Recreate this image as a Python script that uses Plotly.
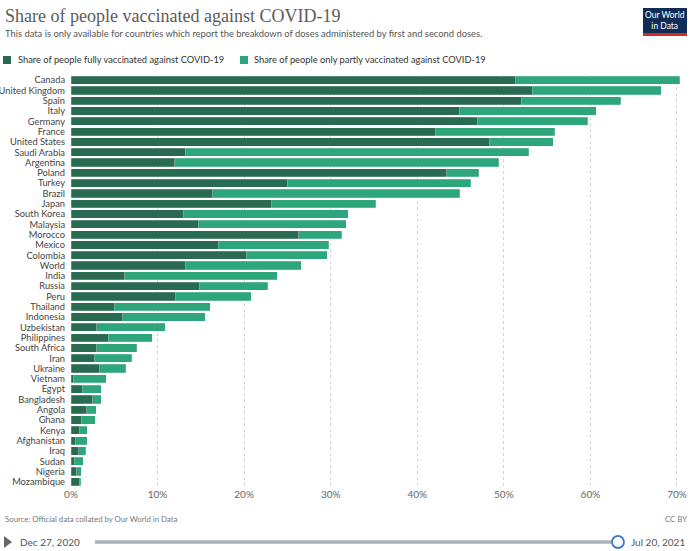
import plotly.graph_objects as go

countries = ["Canada", "United Kingdom", "Spain", "Italy", "Germany", "France", "United States",
             "Saudi Arabia", "Argentina", "Poland", "Turkey", "Brazil", "Japan", "South Korea",
             "Malaysia", "Morocco", "Mexico", "Colombia", "World", "India", "Russia", "Peru",
             "Thailand", "Indonesia", "Uzbekistan", "Philippines", "South Africa", "Iran",
             "Ukraine", "Vietnam", "Egypt", "Bangladesh", "Angola", "Ghana", "Kenya",
             "Afghanistan", "Iraq", "Sudan", "Nigeria", "Mozambique"]

fully = [51.4, 53.3, 52.0, 44.9, 46.9, 42.1, 48.3,
         13.2, 12.0, 43.4, 25.0, 16.4, 23.2, 13.0,
         14.7, 26.3, 17.0, 20.3, 13.2, 6.2, 14.8, 12.1,
         5.0, 6.0, 3.0, 4.3, 3.0, 2.7,
         3.3, 0.3, 1.3, 2.5, 1.8, 1.2, 1.0,
         0.5, 0.9, 0.35, 0.66, 1.0]

partly = [18.9, 14.9, 11.5, 15.8, 12.8, 13.8, 7.4,
          39.7, 37.4, 3.7, 21.2, 28.5, 12.0, 19.0,
          17.1, 5.0, 12.8, 9.3, 13.4, 17.6, 7.9, 8.7,
          11.1, 9.5, 7.9, 5.1, 4.6, 4.3,
          3.0, 3.8, 2.2, 1.0, 1.1, 1.6, 0.9,
          1.4, 0.8, 1.05, 0.5, 0.1]

x_ticks = [0, 10, 20, 30, 40, 50, 60, 70]
x_tick_labels = ["0%", "10%", "20%", "30%", "40%", "50%", "60%", "70%"]

series_names = ["Share of people fully vaccinated against COVID-19",
                "Share of people only partly vaccinated against COVID-19"]
colors = ["#286b50", "#2ea67c"]

title = "Share of people vaccinated against COVID-19"
subtitle = "This data is only available for countries which report the breakdown of doses administered by first and second doses."
source = "Source: Official data collated by Our World in Data"
start_date = "Dec 27, 2020"
end_date = "Jul 20, 2021"

SANS = "Lato, 'Noto Sans', sans-serif"
SERIF = "'Liberation Serif', 'DejaVu Serif', serif"

W, H = 693, 551
L, R, T, B = 71, 13, 75, 64
PW, PH = W - L - R, H - T - B

fig = go.Figure()
for name, vals, col in zip(series_names, [fully, partly], colors):
    fig.add_trace(go.Bar(
        y=countries, x=vals, name=name, orientation="h",
        marker=dict(color=col, line=dict(color="rgba(255,255,255,0.35)", width=0.6)),
        showlegend=False, hoverinfo="x+y",
    ))

fig.update_layout(
    template="none",
    width=W, height=H,
    barmode="stack", bargap=0.2,
    margin=dict(l=L, r=R, t=T, b=B, autoexpand=False),
    paper_bgcolor="white", plot_bgcolor="white",
    font=dict(family=SANS, color="#555"),
    xaxis=dict(range=[0, 70.35], tickmode="array", tickvals=x_ticks, ticktext=x_tick_labels,
               showgrid=True, gridcolor="#d6d6d6", griddash="dot", gridwidth=1,
               zeroline=False, showline=False, ticks="", automargin=False,
               tickfont=dict(size=10, color="#666", family=SANS), fixedrange=True),
    yaxis=dict(autorange="reversed", showgrid=False, zeroline=False, showline=False,
               tickmode="array", tickvals=countries, ticktext=countries,
               ticks="", ticklabelstandoff=5, automargin=False,
               tickfont=dict(size=9.3, color="#444", family=SANS), fixedrange=True),
)


def px_x(p):
    return (p - L) / PW


def px_y(p):
    return (H - B - p) / PH


ann = []
shapes = []
ann.append(dict(text=title, x=px_x(3), y=px_y(16), xanchor="left", yanchor="middle",
                font=dict(family=SERIF, size=18, color="#5b5b5b")))
ann.append(dict(text=subtitle, x=px_x(3), y=px_y(33), xanchor="left", yanchor="middle",
                font=dict(family=SANS, size=9.4, color="#555")))
# legend
leg_items = [(3, 16, 0), (240, 252, 1)]
for sx, tx, i in leg_items:
    shapes.append(dict(type="rect", xref="paper", yref="paper",
                       x0=px_x(sx), x1=px_x(sx + 8), y0=px_y(64), y1=px_y(56),
                       fillcolor=colors[i], line=dict(width=0)))
    ann.append(dict(text=series_names[i], x=px_x(tx), y=px_y(60), xanchor="left", yanchor="middle",
                    font=dict(family=SANS, size=9.3, color="#333")))
# logo
shapes.append(dict(type="rect", xref="paper", yref="paper",
                   x0=px_x(643), x1=px_x(687), y0=px_y(36), y1=px_y(8),
                   fillcolor="#0f2d57", line=dict(width=0)))
shapes.append(dict(type="rect", xref="paper", yref="paper",
                   x0=px_x(643), x1=px_x(687), y0=px_y(36), y1=px_y(33),
                   fillcolor="#d42b21", line=dict(width=0)))
ann.append(dict(text="Our World<br>in Data", x=px_x(665), y=px_y(20.5), xanchor="center", yanchor="middle",
                font=dict(family=SANS, size=8.5, color="white")))
# footer
ann.append(dict(text=source, x=px_x(3), y=px_y(519), xanchor="left", yanchor="middle",
                font=dict(family=SANS, size=7.8, color="#777")))
ann.append(dict(text="CC BY", x=px_x(689), y=px_y(519), xanchor="right", yanchor="middle",
                font=dict(family=SANS, size=7.8, color="#777")))
# timeline
shapes.append(dict(type="path", xref="paper", yref="paper",
                   path=f"M {px_x(4)} {px_y(536)} L {px_x(12)} {px_y(542)} L {px_x(4)} {px_y(548)} Z",
                   fillcolor="#666", line=dict(width=0)))
ann.append(dict(text=start_date, x=px_x(18), y=px_y(542), xanchor="left", yanchor="middle",
                font=dict(family=SANS, size=10, color="#555")))
shapes.append(dict(type="line", xref="paper", yref="paper",
                   x0=px_x(95), x1=px_x(613), y0=px_y(542), y1=px_y(542),
                   line=dict(color="#aab3bd", width=3.5)))
shapes.append(dict(type="circle", xref="paper", yref="paper",
                   x0=px_x(612), x1=px_x(624), y0=px_y(548), y1=px_y(536),
                   fillcolor="white", line=dict(color="#3a7cc6", width=1.8)))
ann.append(dict(text=end_date, x=px_x(629), y=px_y(542), xanchor="left", yanchor="middle",
                font=dict(family=SANS, size=10, color="#555")))

for a in ann:
    a.update(xref="paper", yref="paper", showarrow=False)
fig.update_layout(annotations=ann, shapes=shapes)

fig.write_html("out.html",
               config={"displayModeBar": False},
               post_script="document.body.style.margin='0px';document.body.style.padding='0px';"
                           "document.body.style.overflow='hidden';")
